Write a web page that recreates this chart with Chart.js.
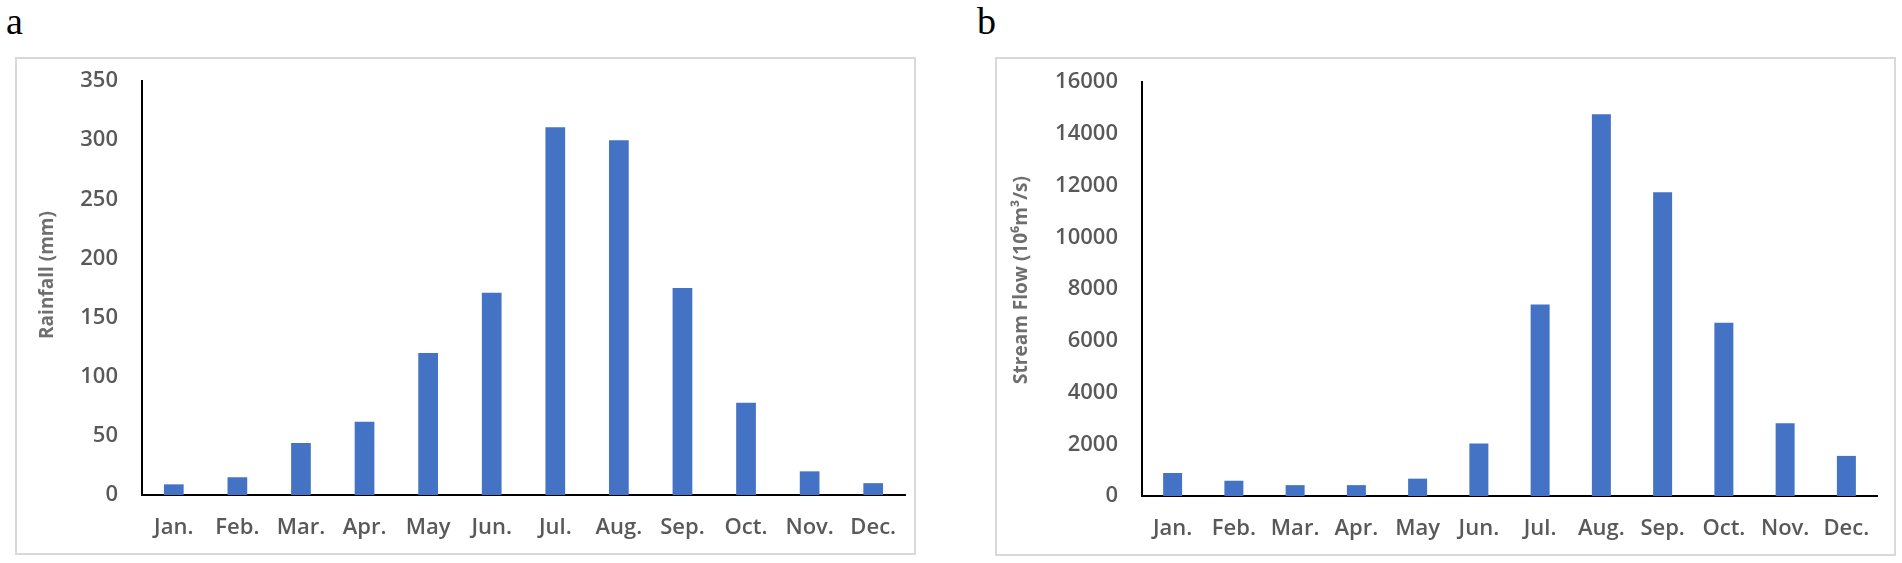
<!DOCTYPE html>
<html>
<head>
<meta charset="utf-8">
<script src="https://cdn.jsdelivr.net/npm/chart.js@4"></script>
<style>
  html, body { margin: 0; padding: 0; background: #fff; }
  body { width: 1902px; height: 563px; position: relative; overflow: hidden; }
  .tag { position: absolute; font-family: "Liberation Serif", "DejaVu Serif", serif; font-size: 38px; color: #000; line-height: 1; }
  .panel { position: absolute; border: 2px solid #d9d9d9; box-sizing: border-box; background: #fff; }
  .panel canvas { position: absolute; left: 0; top: 0; }
</style>
</head>
<body>
<div class="tag" style="left:6px; top:2px;">a</div>
<div class="tag" style="left:977px; top:2px;">b</div>
<div class="panel" id="pa" style="left:15px; top:57px; width:901px; height:498px;"><canvas id="ca"></canvas></div>
<div class="panel" id="pb" style="left:995px; top:57px; width:901px; height:499px;"><canvas id="cb"></canvas></div>
<script>
const months = ["Jan.", "Feb.", "Mar.", "Apr.", "May", "Jun.", "Jul.", "Aug.", "Sep.", "Oct.", "Nov.", "Dec."];
const rainfall = [9, 15, 44, 62, 120, 171, 311, 300, 175, 78, 20, 10];
const streamFlow = [890, 590, 420, 420, 670, 2030, 7400, 14750, 11740, 6700, 2810, 1550];
const rainTicks = [0, 50, 100, 150, 200, 250, 300, 350];
const flowTicks = [0, 2000, 4000, 6000, 8000, 10000, 12000, 14000, 16000];
const rainTitle = "Rainfall (mm)";
const flowTitle = "Stream Flow (10\u2076m\u00b3/s)";

const BAR = "#4472C4";
const GRAY = "#595959";
const TITLE_GRAY = "#6e6e6e";

const axisTitlePlugin = {
  id: "axisTitle",
  afterDraw(chart, args, opts) {
    const ctx = chart.ctx;
    ctx.save();
    ctx.translate(opts.x, opts.y);
    ctx.rotate(-Math.PI / 2);
    ctx.font = "bold 19px 'Open Sans', sans-serif";
    ctx.fillStyle = TITLE_GRAY;
    ctx.textAlign = "center";
    ctx.textBaseline = "middle";
    ctx.fillText(opts.text, 0, 0);
    ctx.restore();
  }
};

function makeChart(id, w, h, labels, values, ticks, title, layout) {
  const cv = document.getElementById(id);
  cv.width = w; cv.height = h;
  cv.style.width = w + "px"; cv.style.height = h + "px";
  return new Chart(cv, {
    type: "bar",
    data: {
      labels: labels,
      datasets: [{ data: values, backgroundColor: BAR, borderWidth: 0,
                   barPercentage: 0.31, categoryPercentage: 1.0 }]
    },
    plugins: [axisTitlePlugin],
    options: {
      responsive: false,
      animation: false,
      devicePixelRatio: 1,
      layout: { padding: { left: 0, right: layout.padRight, top: layout.padTop, bottom: 0 } },
      plugins: {
        legend: { display: false },
        tooltip: { enabled: false },
        axisTitle: { text: title, x: layout.titleX, y: layout.titleY }
      },
      scales: {
        x: {
          grid: { display: false, drawTicks: false },
          border: { display: true, color: "#000", width: 2 },
          ticks: { color: GRAY, font: { family: "'Open Sans', sans-serif", size: 22, weight: 600 },
                   padding: 20, autoSkip: false, maxRotation: 0, minRotation: 0 },
          afterFit: (s) => { s.height = layout.xHeight; s.paddingLeft = 0; s.paddingRight = 0; }
        },
        y: {
          min: ticks[0], max: ticks[ticks.length - 1],
          afterBuildTicks: (s) => { s.ticks = ticks.map(v => ({ value: v })); },
          grid: { display: false, drawTicks: false },
          border: { display: true, color: "#000", width: 2 },
          ticks: { color: GRAY, font: { family: "'Open Sans', sans-serif", size: 22, weight: 600 },
                   padding: 24, callback: (v) => String(v) },
          afterFit: (s) => { s.width = layout.yWidth; s.paddingTop = 0; s.paddingBottom = 0; }
        }
      }
    }
  });
}

makeChart("ca", 897, 494, months, rainfall, rainTicks, rainTitle,
  { padRight: 9, padTop: 22, xHeight: 58, yWidth: 125, titleX: 31, titleY: 216 });
makeChart("cb", 897, 495, months, streamFlow, flowTicks, flowTitle,
  { padRight: 17, padTop: 23, xHeight: 58, yWidth: 145, titleX: 25, titleY: 221 });
</script>
</body>
</html>
